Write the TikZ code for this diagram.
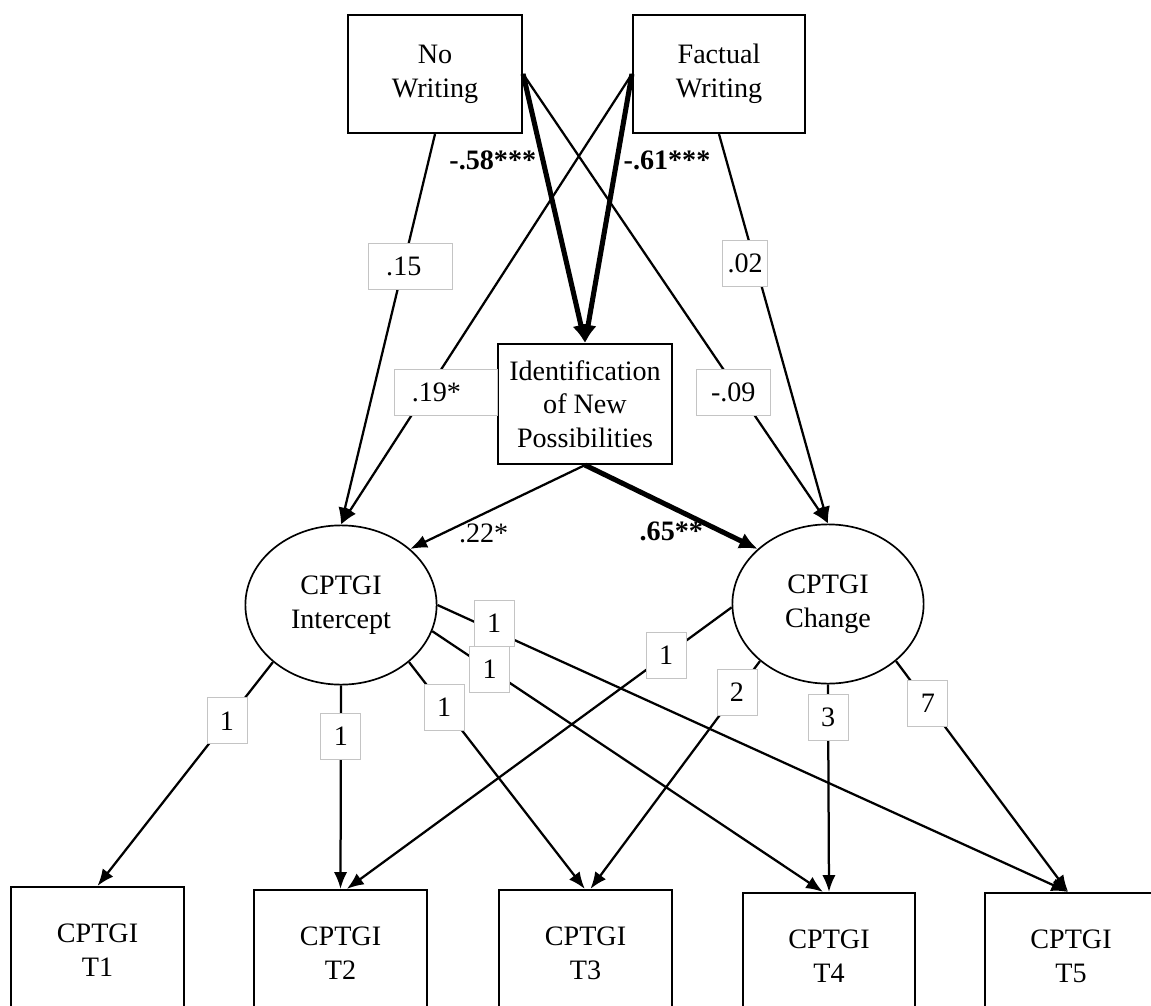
\documentclass[tikz,border=0pt]{standalone}
\usepackage{fontspec}
\setmainfont{Liberation Serif}
\usepackage{tikz}
\usetikzlibrary{arrows.meta,shapes.geometric}
\definecolor{semFrame}{HTML}{C4C4C4}
\newcommand{\semfont}{\fontsize{20}{24}\selectfont}
\tikzset{
  path arrow/.style={-{Latex[length=12pt,width=9.5pt]}, line width=1.6pt},
  strong arrow/.style={-{Latex[length=13pt,width=12pt]}, line width=3.6pt},
  observed/.style={draw, line width=1.5pt, minimum width=4.35cm,
    minimum height=2.95cm, align=center, font=\semfont},
  outcome/.style={observed, minimum width=4.32cm, minimum height=3.15cm},
  latent/.style={ellipse, draw, line width=1.2pt, minimum width=4.78cm,
    minimum height=3.98cm, inner sep=0pt, align=center, font=\semfont},
  coef/.style={draw=semFrame, fill=white, line width=0.6pt,
    minimum width=1cm, minimum height=1.15cm, inner sep=2pt, font=\semfont},
  plain coef/.style={inner sep=2pt, font=\semfont},
  bold coef/.style={inner sep=3pt, font=\semfont\bfseries}
}
\begin{document}
\begin{tikzpicture}[x=0.025cm, y=-0.025cm]
  \useasboundingbox (0,0) rectangle (1151,1006);
  \node[observed] (nw) at (435,74) {No\\Writing};
  \node[observed, minimum width=4.3cm] (fw) at (719,74) {Factual\\Writing};
  \node[observed, minimum height=3cm] (id) at (585,404)
    {Identification\\of New\\Possibilities};
  \node[latent] (int) at (341,605) {CPTGI\\Intercept};
  \node[latent] (ch) at (828,604) {CPTGI\\Change};
  \node[outcome] (t1) at (97.5,950) {CPTGI\\T1};
  \node[outcome] (t2) at (340.5,953) {CPTGI\\T2};
  \node[outcome] (t3) at (585.5,953) {CPTGI\\T3};
  \node[outcome] (t4) at (829,956) {CPTGI\\T4};
  \node[outcome] (t5) at (1071,956) {CPTGI\\T5};

  \draw[path arrow] (nw.south) -- node[coef, pos=0.34, xshift=0.18cm,
    minimum width=2.1cm, text width=1.2cm, align=left] {.15} (int.90);
  \draw[path arrow] (fw.west) -- node[coef, pos=0.707, xshift=0.49cm,
    minimum width=2.57cm, text width=1.7cm, align=left] {.19*} (int.90);
  \draw[path arrow] (nw.east) -- node[coef, pos=0.709, xshift=-0.15cm,
    minimum width=1.85cm] {-.09} (ch.90);
  \draw[path arrow] (fw.south) -- node[coef, pos=0.332, xshift=-0.25cm,
    minimum width=1.13cm] {.02} (ch.90);
  \draw[strong arrow] (nw.east) -- node[bold coef, pos=0.32, left] {-.58***} (id.north);
  \draw[strong arrow] (fw.west) -- node[bold coef, pos=0.32, right] {-.61***} (id.north);
  \draw[path arrow] (id.south) -- node[plain coef, pos=0.58, below, yshift=-0.15cm] {.22*} (int.39);
  \draw[strong arrow] (id.south) -- node[bold coef, pos=0.5, below, yshift=-0.2cm] {.65**} (ch.142);

  \draw[path arrow] (int.220) -- node[coef, pos=0.262] {1} (t1.north);
  \draw[path arrow] (int.270) -- node[coef, pos=0.249] {1} (t2.north);
  \draw[path arrow] (int.320) -- node[coef, pos=0.2] {1} ([xshift=-0.5pt]t3.north);
  \draw[path arrow] (int.0) -- node[coef, pos=0.09, yshift=0.18cm] {1} ([xshift=-2pt]t5.north);
  \draw[path arrow] (int.344) -- node[coef, pos=0.147] {1} ([xshift=-4.3pt]t4.north);
  \draw[path arrow] (ch.182) -- node[coef, pos=0.17] {1} ([xshift=4.5pt]t2.north);
  \draw[path arrow] (ch.220) -- node[coef, pos=0.136] {2} ([xshift=3.5pt]t3.north);
  \draw[path arrow] (ch.270) -- node[coef, pos=0.16] {3} (t4.north);
  \draw[path arrow] (ch.320) -- node[coef, pos=0.185] {7} ([xshift=-2pt]t5.north);
\end{tikzpicture}
\end{document}
